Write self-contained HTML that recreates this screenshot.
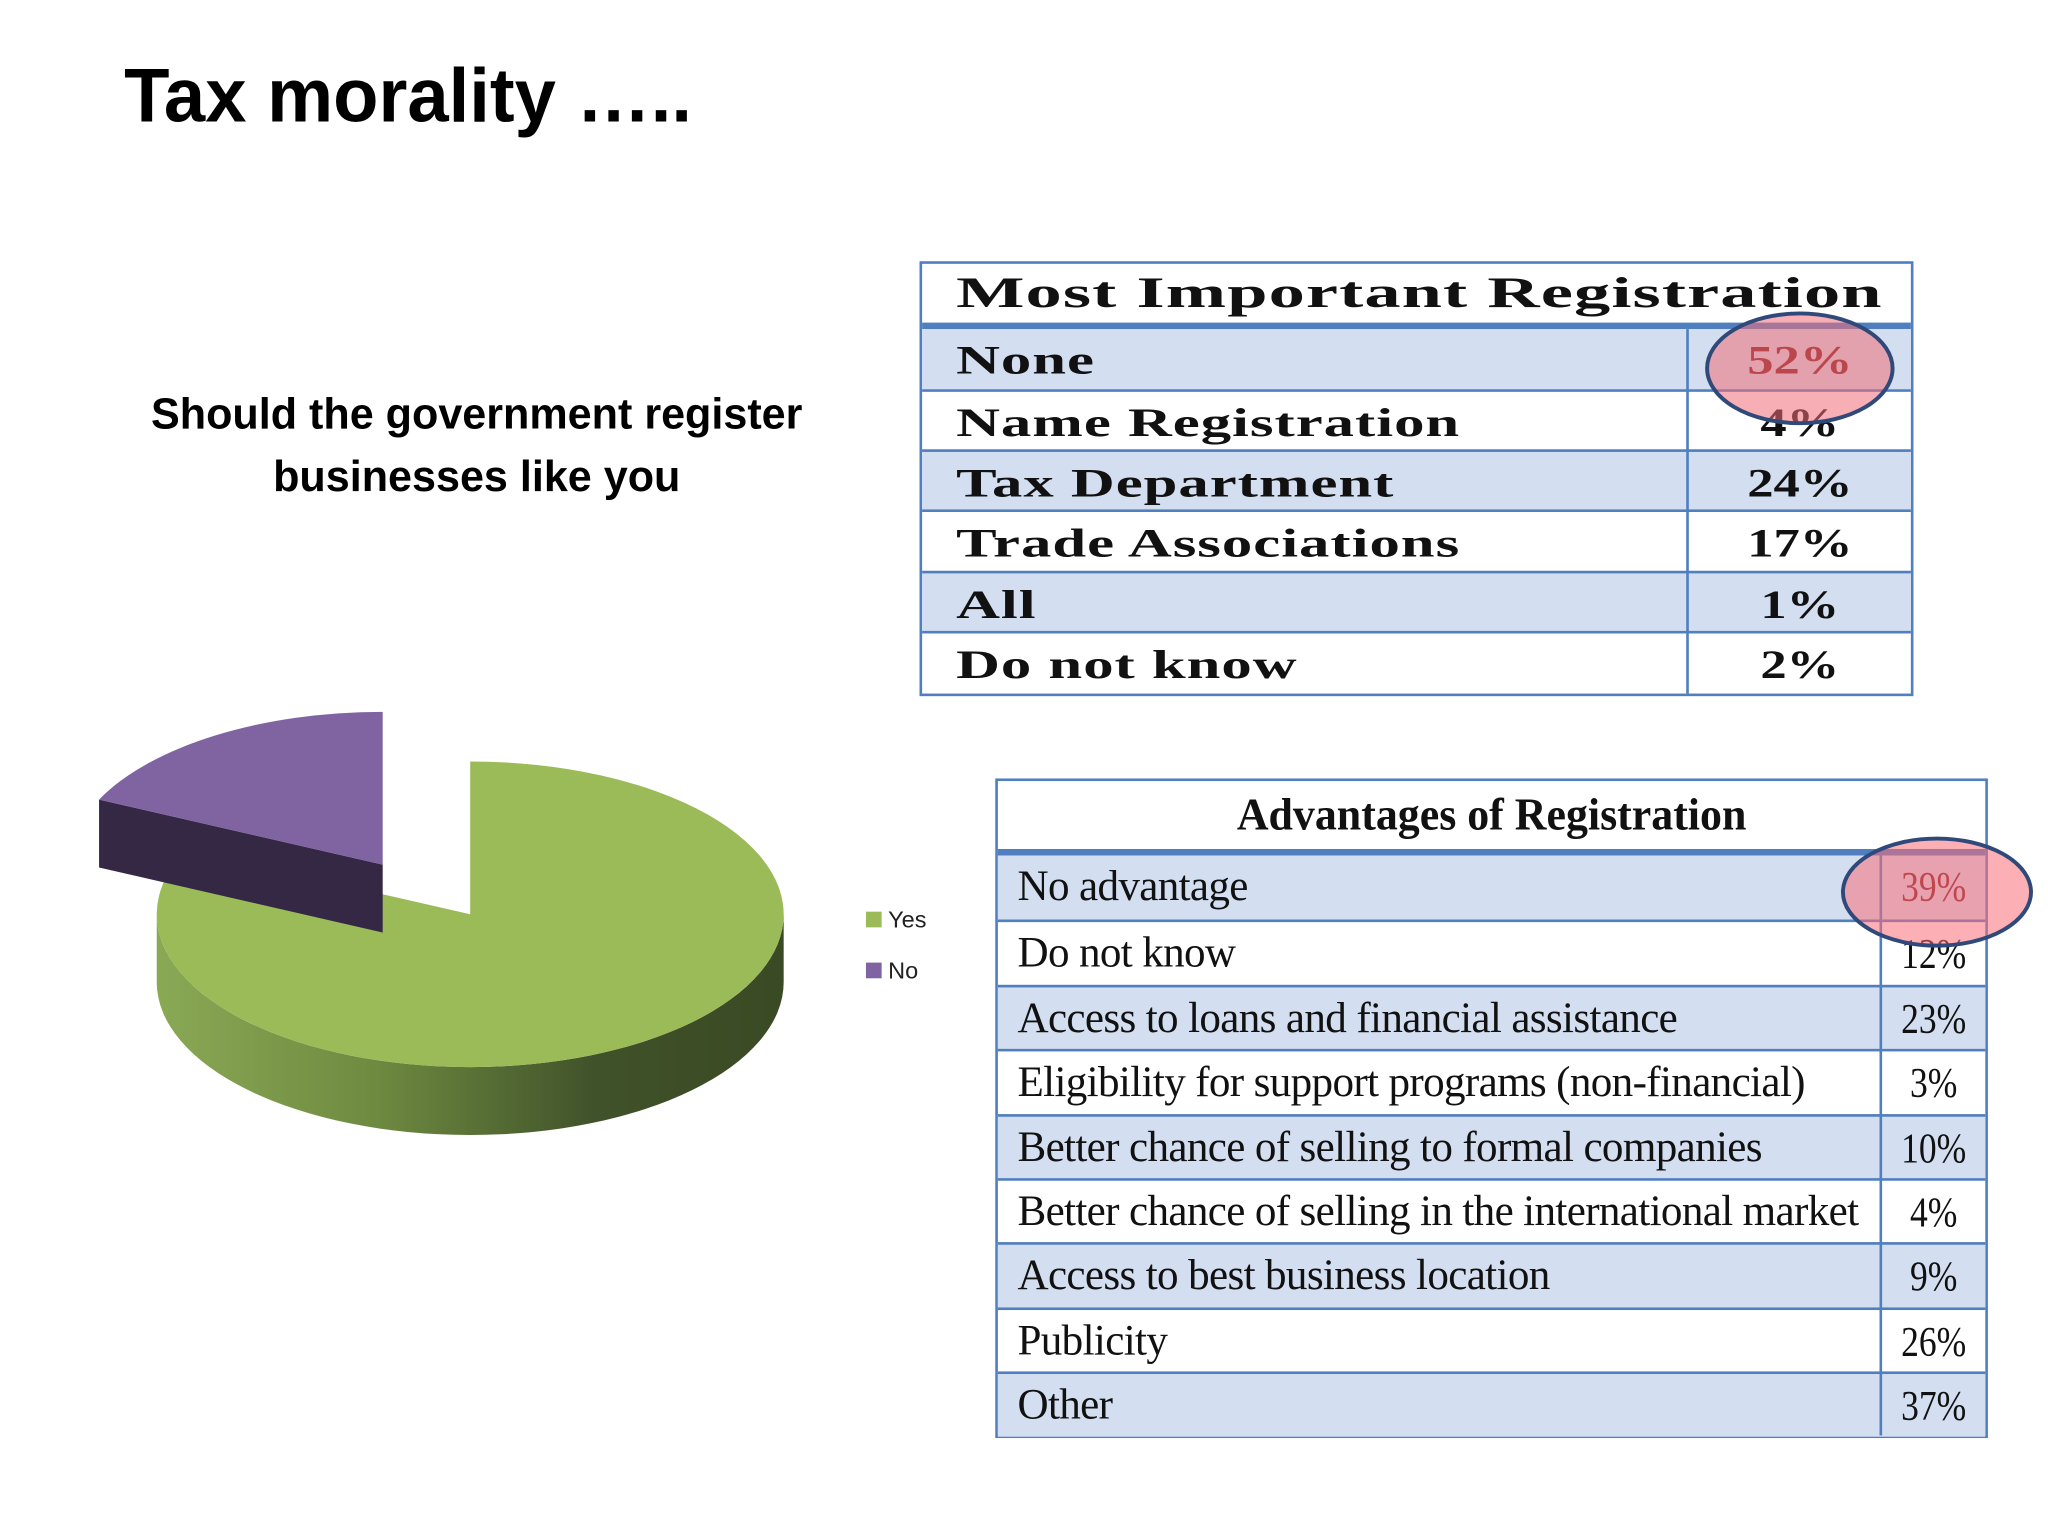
<!DOCTYPE html>
<html><head><meta charset="utf-8">
<style>
html,body{margin:0;padding:0;background:#fff;width:2048px;height:1536px;overflow:hidden}
#root{position:absolute;left:0;top:0;width:1568px;height:1176px;transform:scale(1.30612);transform-origin:0 0;font-family:"Liberation Sans",sans-serif}
.abs{position:absolute}
.t1 .row{position:absolute;left:0;width:757px;height:46px;border-top:2px solid #4f7fbf;box-sizing:border-box}
.t1 .lab{position:absolute;left:26px;top:6px;font-family:"Liberation Serif",serif;font-weight:bold;font-size:31px;transform:scaleX(1.5);transform-origin:0 0;letter-spacing:0.5px;color:#111;white-space:nowrap}
.t1 .val{position:absolute;left:587px;width:170px;top:6px;text-align:center;font-family:"Liberation Serif",serif;font-weight:bold;font-size:31px;transform:scaleX(1.3);color:#111}
.t2 .row{position:absolute;left:0;width:756px;height:49.4px;border-top:2px solid #4f7fbf;box-sizing:border-box}
.t2 .lab{position:absolute;left:15px;top:6px;font-family:"Liberation Serif",serif;font-size:33px;transform:scaleX(1.0);transform-origin:0 0;color:#111;white-space:nowrap;letter-spacing:-0.5px}
.t2 .val{position:absolute;left:677px;width:79px;top:6px;text-align:center;font-family:"Liberation Serif",serif;font-size:32px;transform:scaleX(0.85);color:#111}
.blue{background:#d3dff0}
</style></head><body>
<div id="root">
<div class="abs" style="left:95px;top:40px;font-size:58px;font-weight:bold;color:#000;transform:scaleX(0.98);transform-origin:0 0">Tax morality …..</div>
<div class="abs" style="left:60px;top:293px;width:610px;text-align:center;font-size:33px;font-weight:bold;line-height:48px;color:#000">Should the government register<br>businesses like you</div>

<svg class="abs" style="left:0;top:500px" width="700" height="420" id="pie">
<defs>
<linearGradient id="gside" x1="0" x2="1" y1="0" y2="0">
<stop offset="0" stop-color="#8aa955"/><stop offset="0.35" stop-color="#6e8a40"/><stop offset="0.7" stop-color="#40522a"/><stop offset="1" stop-color="#3a4a24"/>
</linearGradient>
</defs>
</svg>
<div class="abs" style="left:663px;top:694px;font-size:18px;color:#222"><span style="display:inline-block;width:12px;height:12px;background:#9bbb59;margin-right:5px"></span>Yes</div>
<div class="abs" style="left:663px;top:733px;font-size:18px;color:#222"><span style="display:inline-block;width:12px;height:12px;background:#8064a2;margin-right:5px"></span>No</div>

<div class="abs t1" style="left:704px;top:200px;width:761px;height:333px;border:2px solid #4f7fbf;box-sizing:border-box;background:#fff">
<div class="abs" style="left:26px;top:5px;font-family:'Liberation Serif',serif;font-weight:bold;font-size:33px;transform:scaleX(1.68);transform-origin:0 0;letter-spacing:0.5px;color:#111;white-space:nowrap">Most Important Registration</div>
<div class="abs" style="left:0;top:45px;width:757px;height:5px;background:#4f7fbf"></div>
<div class="row blue" style="top:50px;border-top:none"><span class="lab">None</span><span class="val" style="color:#7a1a1a">52%</span></div>
<div class="row" style="top:96px"><span class="lab">Name Registration</span><span class="val">4%</span></div>
<div class="row blue" style="top:142px"><span class="lab">Tax Department</span><span class="val">24%</span></div>
<div class="row" style="top:188px"><span class="lab">Trade Associations</span><span class="val">17%</span></div>
<div class="row blue" style="top:235px"><span class="lab">All</span><span class="val">1%</span></div>
<div class="row" style="top:281px"><span class="lab">Do not know</span><span class="val">2%</span></div>
<div class="abs" style="left:585px;top:50px;width:2px;height:279px;background:#4f7fbf"></div>
</div>

<div class="abs t2" style="left:762px;top:596px;width:760px;height:505px;border:2px solid #4f7fbf;box-sizing:border-box;background:#fff">
<div class="abs" style="left:0;top:6px;width:756px;text-align:center;font-family:'Liberation Serif',serif;font-weight:bold;font-size:35px;transform:scaleX(0.96);color:#111">Advantages of Registration</div>
<div class="abs" style="left:0;top:52px;width:756px;height:5px;background:#4f7fbf"></div>
<div class="row blue" style="top:57px;border-top:none"><span class="lab">No advantage</span><span class="val" style="color:#7a1a1a">39%</span></div>
<div class="row" style="top:106.4px"><span class="lab">Do not know</span><span class="val">12%</span></div>
<div class="row blue" style="top:155.8px"><span class="lab">Access to loans and financial assistance</span><span class="val">23%</span></div>
<div class="row" style="top:205.2px"><span class="lab">Eligibility for support programs (non-financial)</span><span class="val">3%</span></div>
<div class="row blue" style="top:254.6px"><span class="lab">Better chance of selling to formal companies</span><span class="val">10%</span></div>
<div class="row" style="top:304px"><span class="lab">Better chance of selling in the international market</span><span class="val">4%</span></div>
<div class="row blue" style="top:353.4px"><span class="lab">Access to best business location</span><span class="val">9%</span></div>
<div class="row" style="top:402.8px"><span class="lab">Publicity</span><span class="val">26%</span></div>
<div class="row blue" style="top:452.2px"><span class="lab">Other</span><span class="val">37%</span></div>
<div class="abs" style="left:675px;top:57px;width:2px;height:444px;background:#4f7fbf"></div>
</div>

<svg class="abs" style="left:0;top:0" width="1568" height="1176">
<ellipse cx="1378" cy="282" rx="71" ry="42" fill="rgba(240,110,120,0.55)" stroke="#2f4a7a" stroke-width="3"/>
<ellipse cx="1483" cy="683" rx="72" ry="41" fill="rgba(250,110,120,0.55)" stroke="#2f4a7a" stroke-width="3"/>
</svg>
</div>
<script>
const categories = ["Yes","No"];
const values = [82,18];
const colorsTop = ["#9bbb59","#8064a2"];
const colorsSide = ["url(#gside)","#352845"];
(function(){
  const svg=document.getElementById('pie');
  const NS='http://www.w3.org/2000/svg';
  const cx=360, cy=200, rx=240, ry=117, depth=52;
  const total=values.reduce((a,b)=>a+b,0);
  const pt=(t,dy,ox,oy)=>[cx+ox+rx*Math.sin(t), cy+oy+dy-ry*Math.cos(t)];
  let start=0;
  const offs=[[0,0],[-67,-38]];
  const slices=[];
  values.forEach((v,i)=>{const a0=start,a1=start+v/total*2*Math.PI;start=a1;slices.push([a0,a1,i]);});
  const order=slices.slice().sort((a,b)=>(offs[b[2]][1])-(offs[a[2]][1]));
  order.forEach(([a0,a1,i])=>{
    const [ox,oy]=offs[i];
    const large=(a1-a0)>Math.PI?1:0;
    const side=document.createElementNS(NS,'path');
    let d='';
    const p0=pt(a0,0,ox,oy);
    const s=Math.max(a0,Math.PI/2), e=Math.min(a1,3*Math.PI/2);
    if(e>s){
      const q0=pt(s,0,ox,oy),q1=pt(e,0,ox,oy),q2=pt(e,depth,ox,oy),q3=pt(s,depth,ox,oy);
      d+=`M${q0} A${rx},${ry} 0 0 1 ${q1} L${q2} A${rx},${ry} 0 0 0 ${q3} Z `;
    }
    if(i===1){
      const c=[cx+ox,cy+oy];
      d+=`M${c} L${p0} L${pt(a0,depth,ox,oy)} L${c[0]},${c[1]+depth} Z`;
    }
    side.setAttribute('d',d);
    side.setAttribute('fill',colorsSide[i]);
    
    
    svg.appendChild(side);
    const top=document.createElementNS(NS,'path');
    const pA=pt(a0,0,ox,oy),pB=pt(a1,0,ox,oy);
    top.setAttribute('d',`M${cx+ox},${cy+oy} L${pA} A${rx},${ry} 0 ${large} 1 ${pB} Z`);
    top.setAttribute('fill',colorsTop[i]);
    
    
    svg.appendChild(top);
  });
})();
</script>
</body></html>
